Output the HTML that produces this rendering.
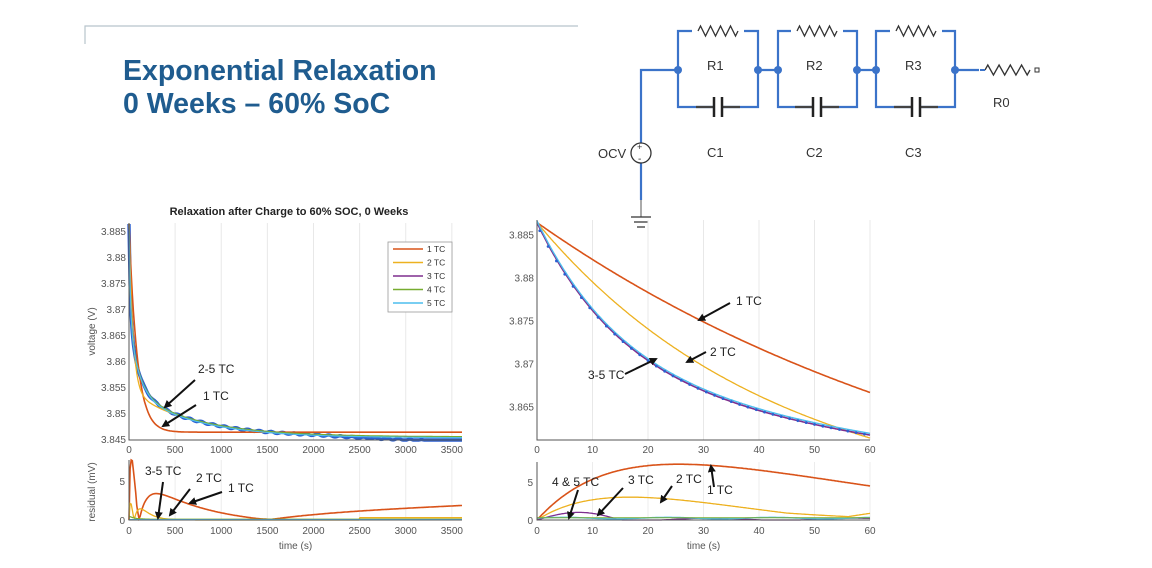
<!DOCTYPE html>
<html><head><meta charset="utf-8">
<style>
html,body{margin:0;padding:0;background:#fff;}
svg{display:block;font-family:"Liberation Sans",Arial,sans-serif;}
.t{font-size:10px;fill:#555;}
.a{font-size:12px;fill:#222;}
</style></head>
<body>
<svg id="s" width="1152" height="568" viewBox="0 0 1152 568" xmlns="http://www.w3.org/2000/svg">
<defs><marker id="ar" markerWidth="8" markerHeight="8" refX="6" refY="4" orient="auto" markerUnits="userSpaceOnUse"><path d="M0,0 L8,4 L0,8 z" fill="#111"/></marker></defs>
<path d="M85,44 V26 H578" stroke="#b8c4cc" stroke-width="1.2" fill="none"/>
<text x="123" y="80" font-size="28.5" font-weight="bold" fill="#1f5c8f">Exponential Relaxation</text>
<text x="123" y="113" font-size="28.5" font-weight="bold" fill="#1f5c8f">0 Weeks – 60% SoC</text>

<g stroke="#3b73c9" stroke-width="2.2" fill="none">
<path d="M641,144 V70 H678"/>
<path d="M641,162 V200"/>
<path d="M641,200 V217" stroke="#555" stroke-width="1"/>
<path d="M678,31 H758 V107 H678 Z M758,70 H778 M778,31 H857 V107 H778 Z M857,70 H876 M876,31 H955 V107 H876 Z M955,70 H980"/>
</g>
<g id="rc"></g>
<circle cx="641" cy="153" r="10" fill="#fff" stroke="#333" stroke-width="1.3"/>
<text x="637" y="150" font-size="9" fill="#333">+</text><text x="638" y="162" font-size="10" fill="#333">-</text>
<path d="M631,217 H651 M634,222 H648 M637,227 H645" stroke="#333" stroke-width="1.3"/>
<g font-size="13" fill="#333">
<text x="598" y="158">OCV</text>
<text x="707" y="70">R1</text><text x="806" y="70">R2</text><text x="905" y="70">R3</text>
<text x="707" y="157">C1</text><text x="806" y="157">C2</text><text x="905" y="157">C3</text>
<text x="993" y="107">R0</text>
</g>

<text x="289" y="215" font-size="11" font-weight="bold" fill="#222" text-anchor="middle">Relaxation after Charge to 60% SOC, 0 Weeks</text>
<g id="L"></g>
<g id="R"></g>
</svg>
<script>
function el(p,tag,at,txt){const e=document.createElementNS('http://www.w3.org/2000/svg',tag);for(const k in at)e.setAttribute(k,at[k]);if(txt!==undefined)e.textContent=txt;p.appendChild(e);return e;}
const rc=document.getElementById('rc');
function res(x0,x1,y){let d=`M${x0},${y}`;const n=8,w=(x1-x0)/n;for(let i=0;i<n;i++){d+=` L${x0+w*(i+0.5)},${y+(i%2?5:-5)}`;}d+=` L${x1},${y}`;
 el(rc,'path',{d:`M${x0-6},${y} H${x1+6}`,stroke:'#fff','stroke-width':4});el(rc,'path',{d,stroke:'#333','stroke-width':1.3,fill:'none'});}
function cap(xc,y){el(rc,'path',{d:`M${xc-22},${y} H${xc+22}`,stroke:'#444','stroke-width':2.2});el(rc,'rect',{x:xc-5,y:y-10,width:10,height:20,fill:'#fff'});
 el(rc,'path',{d:`M${xc-4},${y-10} V${y+10} M${xc+4},${y-10} V${y+10}`,stroke:'#222','stroke-width':2.5});}
[718,817,916].forEach(c=>{res(c-20,c+20,31);cap(c,107);});
res(985,1030,70);el(rc,'path',{d:'M980,70 H985',stroke:'#3b73c9','stroke-width':2});
el(rc,'rect',{x:1035,y:68,width:4,height:4,fill:'none',stroke:'#333'});
[[678,70],[758,70],[778,70],[857,70],[876,70],[955,70]].forEach(([x,y])=>el(rc,'circle',{cx:x,cy:y,r:4,fill:'#3b73c9'}));

const C={r:'#d95319',y:'#edb120',p:'#7e2f8e',g:'#77ac30',c:'#4dbeee',d:'#2b5fd0'};
const V1=t=>3.8465+0.04*Math.exp(-t/88);
const V2=t=>3.8455+0.032*Math.exp(-t/42)+0.009*Math.exp(-t/700);
const V3=t=>3.8455+0.018*Math.exp(-t/15)+0.014*Math.exp(-t/100)+0.009*Math.exp(-t/700);

function chart(g,o){
 const {x0,x1,y0,y1,tmax,vmin,vmax,ry0,ry1,rmax,xt,yt,ylab}=o;
 const X=t=>x0+(x1-x0)*t/tmax, Y=v=>y1-(y1-y0)*(v-vmin)/(vmax-vmin), RY=r=>ry1-(ry1-ry0)*r/rmax;
 xt.forEach(t=>{el(g,'line',{x1:X(t),x2:X(t),y1:y0,y2:y1,stroke:'#e8e8e8'});el(g,'line',{x1:X(t),x2:X(t),y1:ry0,y2:ry1,stroke:'#ececec'});
  el(g,'text',{x:X(t),y:y1+13,class:'t','text-anchor':'middle'},t);el(g,'text',{x:X(t),y:ry1+14,class:'t','text-anchor':'middle'},t);});
 yt.forEach(v=>el(g,'text',{x:x0-3,y:Y(v)+3,class:'t','text-anchor':'end'},v));
 [0,5].forEach(r=>el(g,'text',{x:x0-4,y:RY(r)+4,class:'t','text-anchor':'end','font-size':11},r));
 function line(f,col,w,a,b,ry){let d='';const N=300;for(let i=0;i<=N;i++){const t=tmax*i/N;let v=f(t);let yy=ry?RY(Math.max(0,Math.min(rmax,v))):Y(Math.max(vmin,Math.min(vmax,v)));d+=(i?'L':'M')+X(t).toFixed(1)+','+yy.toFixed(1);}
  el(g,'path',{d,fill:'none',stroke:col,'stroke-width':w});}
 o.draw(line);
 el(g,'path',{d:`M${x0},${y0} V${y1} H${x1}`,stroke:'#555',fill:'none','stroke-width':1});
 el(g,'path',{d:`M${x0},${ry0} V${ry1} H${x1}`,stroke:'#555',fill:'none','stroke-width':1});
 el(g,'text',{x:(x0+x1)/2,y:ry1+29,class:'t','text-anchor':'middle','font-size':11},'time (s)');
 if(ylab){el(g,'text',{transform:`translate(${x0-34},${(y0+y1)/2}) rotate(-90)`,class:'t','text-anchor':'middle','font-size':11},'voltage (V)');
  el(g,'text',{transform:`translate(${x0-34},${(ry0+ry1)/2+2}) rotate(-90)`,class:'t','text-anchor':'middle','font-size':11},'residual (mV)');}
}
const L=document.getElementById('L'),R=document.getElementById('R');
chart(L,{x0:129,x1:462,y0:223,y1:440,tmax:3610,vmin:3.845,vmax:3.8867,ry0:460,ry1:520,rmax:7.7,
 xt:[0,500,1000,1500,2000,2500,3000,3500],yt:[3.845,3.85,3.855,3.86,3.865,3.87,3.875,3.88,3.885],ylab:true,
 draw:(line)=>{
  line(t=>V3(t)+0.00015*Math.sin(t*0.05)-0.0009*Math.max(0,(t-2000)/1600),C.d,3.4);
  line(V1,C.r,1.6);line(V2,C.y,1.3);line(V3,C.p,1.2);line(t=>V3(t)+0.0001,C.g,1.2);line(t=>V3(t)-0.0001,C.c,1.2);
  line(t=>Math.abs(V1(t)-V3(t))*1000*(t<80?1:0.8)+(t>1400?(t-1400)/2200*1.1:0),C.r,1.6,0,0,true);
  line(t=>Math.abs(V2(t)-V3(t))*600+(t>2500?0.3:0),C.y,1.3,0,0,true);
  line(t=>0.4*Math.exp(-t/60)+0.1,C.g,1.2,0,0,true);line(t=>0.05,C.c,1.2,0,0,true);
 }});
el(L,'rect',{x:388,y:242,width:64,height:70,fill:'#fff',stroke:'#999','stroke-width':0.8});
[['1 TC',C.r],['2 TC',C.y],['3 TC',C.p],['4 TC',C.g],['5 TC',C.c]].forEach(([n,c],i)=>{const y=249+i*13.5;
 el(L,'line',{x1:393,x2:423,y1:y,y2:y,stroke:c,'stroke-width':1.6});el(L,'text',{x:427,y:y+3,'font-size':8.5,fill:'#333'},n);});
chart(R,{x0:537,x1:870,y0:220,y1:440,tmax:60,vmin:3.8612,vmax:3.8868,ry0:462,ry1:520,rmax:7.6,
 xt:[0,10,20,30,40,50,60],yt:[3.865,3.87,3.875,3.88,3.885],ylab:false,
 draw:(line)=>{
  line(V1,C.r,1.6);line(V2,C.y,1.3);line(V3,C.p,1.6);line(t=>V3(t)+0.0002,C.c,1.4);
  line(t=>Math.abs(V1(t)-V3(t))*900,C.r,1.6,0,0,true);
  line(t=>Math.abs(V2(t)-V3(t))*800+(t>45?(t-45)/15*0.6:0),C.y,1.3,0,0,true);
  line(t=>t<15?1.0*Math.sin(Math.PI*t/15):0.1+0.15*Math.sin(t/4),C.p,1.3,0,0,true);
  line(t=>0.25+0.1*Math.sin(t/3),C.c,1.4,0,0,true);line(t=>0.3,C.g,1,0,0,true);
 }});
for(let t=0.5;t<60;t+=1.5){const x=537+333*t/60,y=440-220*(V3(t)-0.0003*Math.exp(-t/8)-3.8612)/(3.8868-3.8612);el(R,'circle',{cx:x,cy:y,r:1.4,fill:C.d});}
const A=document.getElementById('s');
const ann=[["2-5 TC",198,373,[195,380,165,407]],["1 TC",203,400,[196,405,163,426]],
["3-5 TC",145,475,[163,482,158,518]],["2 TC",196,482,[190,489,170,515]],["1 TC",228,492,[222,492,190,503]],
["1 TC",736,305,[730,303,699,320]],["2 TC",710,356,[706,352,687,362]],["3-5 TC",588,379,[625,374,656,359]],
["4 & 5 TC",552,486,[578,490,569,518]],["3 TC",628,484,[623,488,598,515]],["2 TC",676,483,[672,486,661,502]],["1 TC",707,494,[714,487,711,466]]];
ann.forEach(([s,x,y,[a,b,c,d]])=>{el(A,'text',{x,y,class:'a'},s);el(A,'line',{x1:a,y1:b,x2:c,y2:d,stroke:'#111','stroke-width':2,'marker-end':'url(#ar)'});});
</script>
</body></html>
